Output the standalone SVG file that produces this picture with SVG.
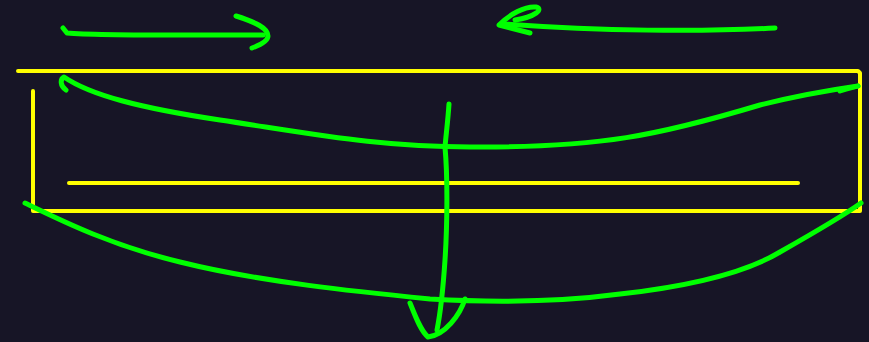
<svg xmlns="http://www.w3.org/2000/svg" width="869" height="342" viewBox="0 0 869 342">
<style>
.y{fill:none;stroke:#ffff00;stroke-width:4;stroke-linecap:round;stroke-linejoin:round}
.g{fill:none;stroke:#00ff00;stroke-width:5;stroke-linecap:round;stroke-linejoin:round}
</style>
<rect width="869" height="342" fill="#171526"/>
<g id="frame">
<path class="y" d="M18,71 L858,71 L860,73 L860,211 L33,211 L33,91"/>
<path class="y" d="M69,183 L798,183"/>
</g>
<g id="arrows">
<path class="g" d="M63,28 L67,33 C100,36 180,35 263,35"/>
<path class="g" d="M236,16 C255,22 268,28 268,36 C268,41 260,45 252,48"/>
<path class="g" d="M775,28 C700,32 600,31 505,24"/>
<path class="g" d="M530,33 L499,25 C510,14 525,6 536,7 C544,9 535,17 515,20"/>
<path class="g" d="M66,90 C60,86 60,79 64,77 C90,95 140,108 220,120 C320,135 380,147 470,147 C600,148 660,135 760,105 C800,95 830,90 858,86"/>
<path class="g" d="M840,91 C848,88 855,87 858,86"/>
<path class="g" d="M449,104 C448,120 446,135 445,147 C448,180 447,230 445,260 C443,290 440,315 437,330"/>
<path class="g" d="M410,303 C415,315 420,330 428,337 C445,335 460,315 465,299"/>
<path class="g" d="M25,203 C60,220 110,245 180,262 C260,282 360,292 430,299 C500,303 560,302 620,294 C700,285 750,270 780,252 C810,235 840,218 861,203"/>
</g>
</svg>
